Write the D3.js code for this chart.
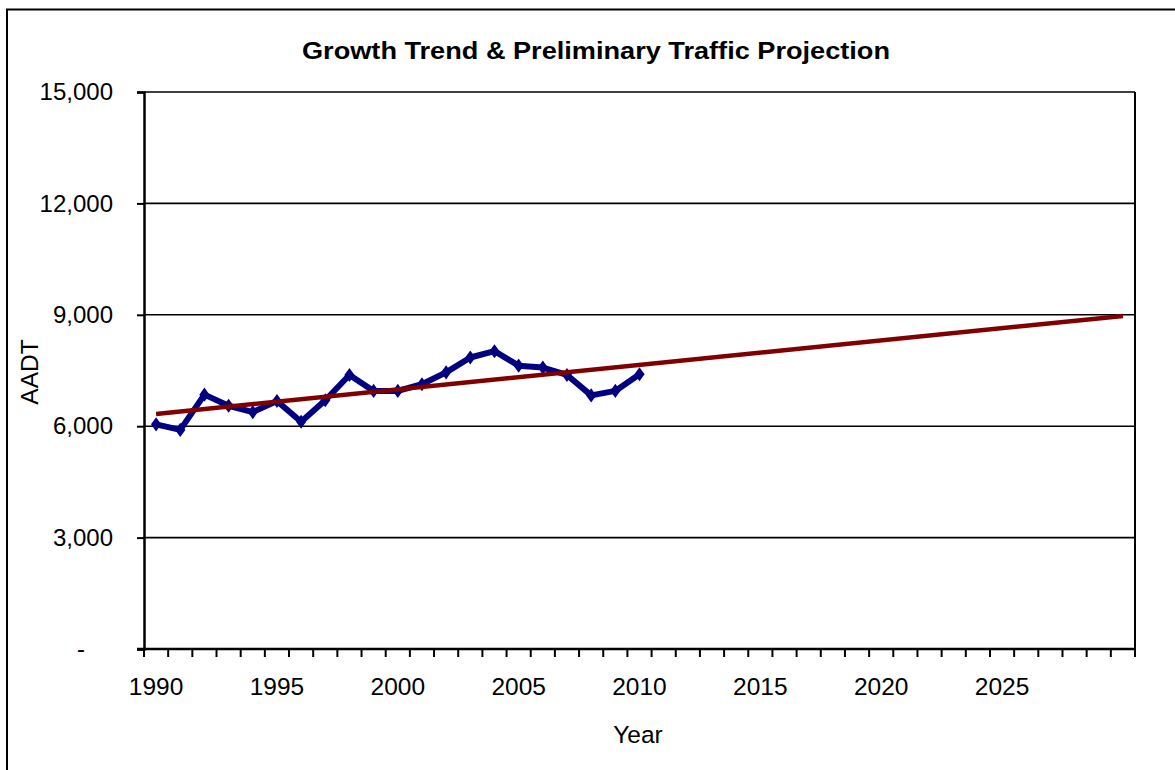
<!DOCTYPE html>
<html><head><meta charset="utf-8">
<script src="https://cdn.jsdelivr.net/npm/d3@7"></script>
<style>body{margin:0;background:#fff}svg{display:block}text{font-family:"Liberation Sans",Arial,sans-serif}</style>
</head><body><svg id="c" width="1175" height="770"></svg>
<script>
const years = d3.range(1990, 2031);
const xTickLabels = [1990, 1995, 2000, 2005, 2010, 2015, 2020, 2025];
const yTicks = [0, 3000, 6000, 9000, 12000, 15000];
const obsYears = [1990,1991,1992,1993,1994,1995,1996,1997,1998,1999,2000,2001,2002,2003,2004,2005,2006,2007,2008,2009,2010];
const obsAADT = [6050,5900,6850,6550,6380,6680,6120,6700,7380,6950,6950,7130,7450,7850,8020,7630,7580,7380,6830,6950,7400];
const trendYears = [1990, 2030];
const trendAADT = [6330, 8970];

const svg = d3.select("#c");
const L = 144, R = 1135, T = 92, B = 649;
const x = d3.scaleBand().domain(years).range([L, R]).padding(0);
const y = d3.scaleLinear().domain([0, 15000]).range([B, T]);
const cx = yr => x(yr) + x.bandwidth() / 2;

// outer border
svg.append("rect").attr("x", 7).attr("y", 9.5).attr("width", 1200).attr("height", 800)
  .attr("fill", "none").attr("stroke", "#000").attr("stroke-width", 2);

// title
svg.append("text").attr("x", 596).attr("y", 59).attr("text-anchor", "middle")
  .attr("font-size", 23).attr("font-weight", "bold")
  .attr("textLength", 588).attr("lengthAdjust", "spacingAndGlyphs")
  .text("Growth Trend & Preliminary Traffic Projection");

// gridlines
svg.append("g").selectAll("line").data(yTicks.filter(d => d > 0)).join("line")
  .attr("x1", L).attr("x2", R).attr("y1", d => y(d)).attr("y2", d => y(d))
  .attr("stroke", "#000").attr("stroke-width", 1.6);

// plot frame (right edge)
svg.append("line").attr("x1", R).attr("x2", R).attr("y1", T).attr("y2", B)
  .attr("stroke", "#000").attr("stroke-width", 2);

// y axis
const yAxis = d3.axisLeft(y).tickValues(yTicks).tickSize(7).tickPadding(24)
  .tickFormat(d => d === 0 ? "-" : d3.format(",")(d));
const gy = svg.append("g").attr("transform", `translate(${L},0)`).call(yAxis);
gy.select(".domain").attr("stroke-width", 2.5);
gy.selectAll(".tick line").attr("stroke-width", 2);
gy.selectAll(".tick text").attr("font-size", 24).attr("fill", "#000")
  .attr("font-family", '"Liberation Sans",Arial,sans-serif');
gy.selectAll(".tick text").filter(d => d === 0).attr("x", -59);

// x axis: ticks at category boundaries
const gx = svg.append("g").attr("transform", `translate(0,${B})`);
gx.append("line").attr("x1", L - 7).attr("x2", R).attr("y1", 0).attr("y2", 0)
  .attr("stroke", "#000").attr("stroke-width", 2.5);
const bounds = years.map(d => x(d)).concat([R]);
gx.selectAll("line.tk").data(bounds).join("line").attr("class", "tk")
  .attr("x1", d => d).attr("x2", d => d).attr("y1", 0).attr("y2", 8)
  .attr("stroke", "#000").attr("stroke-width", 2);
gx.selectAll("text").data(xTickLabels).join("text")
  .attr("x", d => cx(d)).attr("y", 46).attr("text-anchor", "middle")
  .attr("font-size", 24.5).text(d => d);

// axis titles
svg.append("text").attr("x", 638).attr("y", 743).attr("text-anchor", "middle")
  .attr("font-size", 24.5).text("Year");
svg.append("text").attr("transform", "translate(38,372) rotate(-90)").attr("text-anchor", "middle")
  .attr("font-size", 24.5).text("AADT");

// observed series
const obs = obsYears.map((yr, i) => ({ yr, v: obsAADT[i] }));
const line = d3.line().x(d => cx(d.yr)).y(d => y(d.v));
svg.append("path").datum(obs).attr("d", line).attr("fill", "none")
  .attr("stroke", "#000080").attr("stroke-width", 6).attr("stroke-linejoin", "round");
svg.append("g").selectAll("path").data(obs).join("path")
  .attr("d", d3.symbol(d3.symbolDiamond, 90)())
  .attr("transform", d => `translate(${cx(d.yr)},${y(d.v)}) scale(1,0.8)`)
  .attr("fill", "#000080");

// trend line
const trend = trendYears.map((yr, i) => ({ yr, v: trendAADT[i] }));
svg.append("path").datum(trend).attr("d", line).attr("fill", "none")
  .attr("stroke", "#800000").attr("stroke-width", 4.5);
</script></body></html>
